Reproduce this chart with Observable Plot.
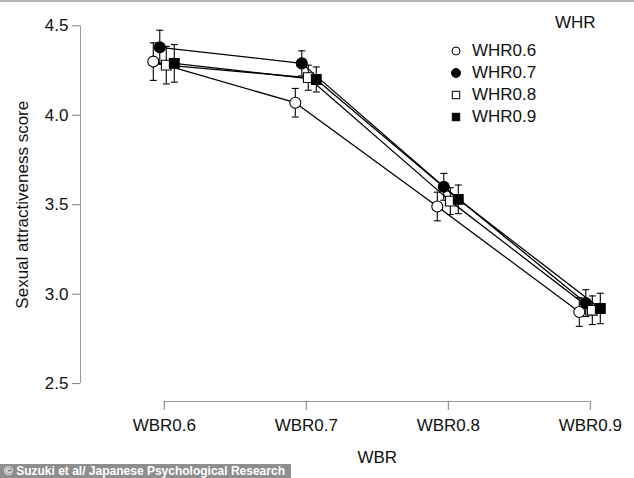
<!DOCTYPE html>
<html>
<head>
<meta charset="utf-8">
<script src="https://cdn.jsdelivr.net/npm/d3@7"></script>
<script src="https://cdn.jsdelivr.net/npm/@observablehq/plot@0.6"></script>
<style>
  html, body { margin: 0; padding: 0; background: white; }
  #wrap { position: relative; width: 634px; height: 478px; overflow: hidden; font-family: "Liberation Sans", Arial, sans-serif; }
  #topline { position: absolute; left: 0; top: 0; width: 634px; height: 2px; background: #b5b5b5; }
  #legend { position: absolute; left: 0; top: 0; width: 634px; height: 130px; pointer-events: none; }
  .lg { position: absolute; font-size: 17px; color: #111; line-height: 20px; white-space: nowrap; }
  .lg svg { position: absolute; left: -22px; top: 4px; }
  #caption { position: absolute; left: 0; top: 464px; height: 14px; width: 291px; background: #8e8e8e; color: white;
    font: bold 12px "Liberation Sans", Arial, sans-serif; line-height: 14px; padding-left: 4px; box-sizing: border-box; white-space: nowrap; overflow: hidden; }
</style>
</head>
<body>
<div id="wrap">
  <div id="chart"></div>
  <div id="topline"></div>
  <div id="legend"></div>
  <div id="caption">© Suzuki et al/ Japanese Psychological Research</div>
</div>
<script>
// ---- data ----
const wbr = ["WBR0.6", "WBR0.7", "WBR0.8", "WBR0.9"];
const whr = ["WHR0.6", "WHR0.7", "WHR0.8", "WHR0.9"];
const mean06 = [4.30, 4.07, 3.49, 2.90];
const mean07 = [4.38, 4.29, 3.60, 2.95];
const mean08 = [4.28, 4.21, 3.52, 2.91];
const mean09 = [4.29, 4.20, 3.53, 2.92];
const se06 = [0.105, 0.080, 0.080, 0.080];
const se07 = [0.095, 0.070, 0.075, 0.075];
const se08 = [0.105, 0.070, 0.075, 0.080];
const se09 = [0.105, 0.070, 0.080, 0.085];
const yTicks = [2.5, 3.0, 3.5, 4.0, 4.5];
const xTitle = "WBR";
const yTitle = "Sexual attractiveness score";
const legendTitle = "WHR";

// ---- styling ----
const means = [mean06, mean07, mean08, mean09];
const ses = [se06, se07, se08, se09];
const dodge = [-11, -4.5, 2, 10];
const symbols = ["circle", "circle", "square", "square"];
const fills = ["white", "black", "white", "black"];
const xPos = wbr.map((d, j) => j + 1);
const xDomain = [0.41, 4.3];
const yDomain = [2.4, 4.58];

const capSymbol = {
  draw(context, size) {
    const w = Math.sqrt(size / Math.PI);
    context.moveTo(-w, 0);
    context.lineTo(w, 0);
  }
};

const seriesMarks = [];
const tables = means.map((m, i) => wbr.map((w, j) => ({
  series: whr[i], x: xPos[j], y: m[j], lo: m[j] - ses[i][j], hi: m[j] + ses[i][j]
})));

tables.forEach((t, i) => {
  seriesMarks.push(Plot.line(t, {x: "x", y: "y", dx: dodge[i], stroke: "black", strokeWidth: 1.3}));
});
tables.forEach((t, i) => {
  seriesMarks.push(Plot.ruleX(t, {x: "x", y1: "lo", y2: "hi", dx: dodge[i], stroke: "black", strokeWidth: 1.1}));
  seriesMarks.push(Plot.dot(t, {x: "x", y: "lo", dx: dodge[i], symbol: capSymbol, r: 3.5, stroke: "black", strokeWidth: 1.1}));
  seriesMarks.push(Plot.dot(t, {x: "x", y: "hi", dx: dodge[i], symbol: capSymbol, r: 3.5, stroke: "black", strokeWidth: 1.1}));
});
tables.forEach((t, i) => {
  seriesMarks.push(Plot.dot(t, {x: "x", y: "y", dx: dodge[i], symbol: symbols[i], r: 5.5,
    fill: fills[i], stroke: "black", strokeWidth: 1.1}));
});

const chart = Plot.plot({
  width: 634,
  height: 478,
  marginLeft: 80,
  marginRight: 1.6,
  marginTop: 11,
  marginBottom: 77,
  x: {type: "linear", domain: xDomain},
  y: {domain: yDomain},
  style: {fontFamily: "'Liberation Sans', Arial, sans-serif", fontSize: "17px", background: "white", color: "black"},
  marks: [
    Plot.ruleX([xDomain[0]], {y1: yTicks[0], y2: yTicks[yTicks.length - 1], stroke: "#9a9a9a"}),
    Plot.ruleY([yDomain[0]], {x1: xPos[0], x2: xPos[xPos.length - 1], stroke: "#9a9a9a"}),
    Plot.axisY({ticks: yTicks, tickSize: 8, tickPadding: 4, tickFormat: d3.format(".1f"), label: null,
      stroke: "#7a7a7a", fill: "#111", fontSize: 17}),
    Plot.axisX({ticks: xPos, tickFormat: d => wbr[d - 1], tickSize: 9, tickPadding: 8, label: null,
      stroke: "#7a7a7a", fill: "#111", fontSize: 17}),
    Plot.text([yTitle], {y: d3.mean(yTicks), frameAnchor: "left", dx: -58, rotate: -90, textAnchor: "middle",
      lineAnchor: "middle", fontSize: 17, fill: "#111"}),
    Plot.text([xTitle], {x: d3.mean(xPos), frameAnchor: "bottom", dy: 56, textAnchor: "middle",
      lineAnchor: "middle", fontSize: 17, fill: "#111"}),
    ...seriesMarks
  ]
});
document.getElementById("chart").appendChild(chart);

// ---- legend ----
const legend = document.getElementById("legend");
const title = document.createElement("div");
title.className = "lg";
title.style.left = "555px";
title.style.top = "13px";
title.textContent = legendTitle;
legend.appendChild(title);
whr.forEach((name, i) => {
  const item = document.createElement("div");
  item.className = "lg";
  item.style.left = "472px";
  item.style.top = (41 + i * 22) + "px";
  const sym = symbols[i] === "circle"
    ? `<circle cx="6" cy="6" r="${fills[i] === "black" ? 4.5 : 4}" fill="${fills[i]}" stroke="black" stroke-width="1"/>`
    : `<rect x="2.3" y="2.3" width="7.4" height="7.4" fill="${fills[i]}" stroke="black" stroke-width="1"/>`;
  item.innerHTML = `<svg width="12" height="12" viewBox="0 0 12 12">${sym}</svg>${name}`;
  legend.appendChild(item);
});
</script>
</body>
</html>
